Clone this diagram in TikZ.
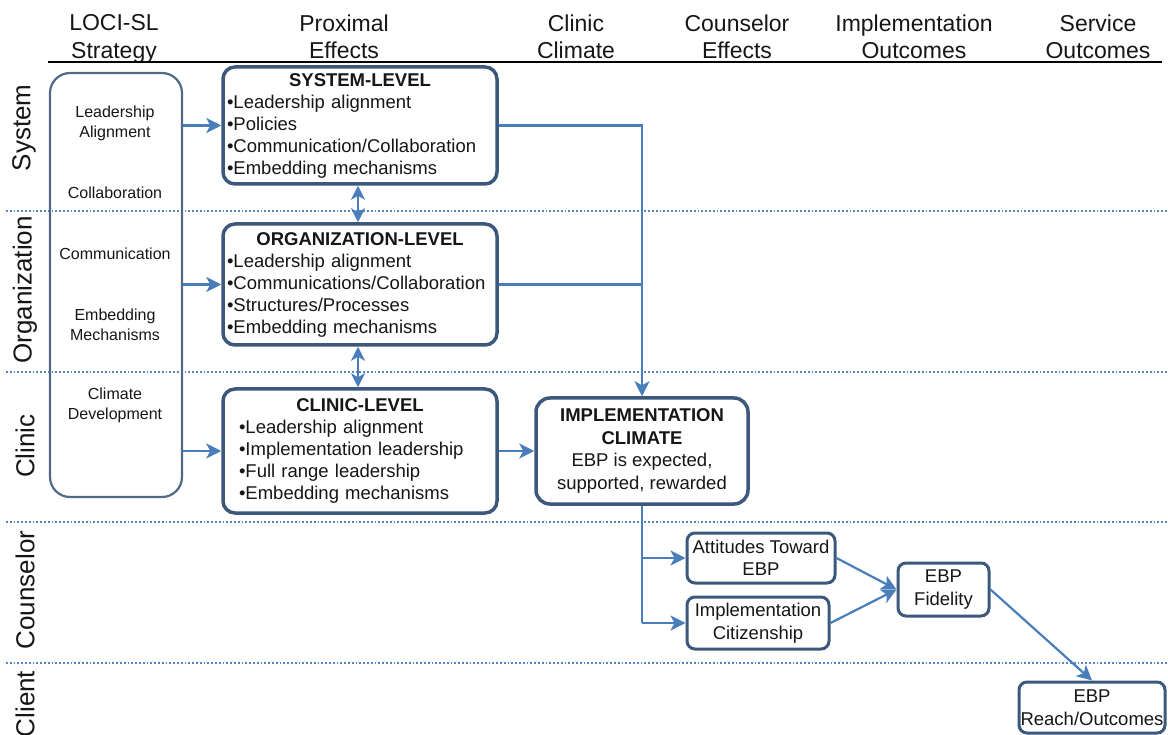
\documentclass[tikz,border=0pt]{standalone}
\usepackage{fontspec}
\setmainfont{Liberation Sans}
\usepackage{tikz}
\usetikzlibrary{arrows.meta}
\usepackage{xcolor}
\definecolor{boxblue}{RGB}{60,88,122}
\definecolor{arrowblue}{RGB}{74,126,187}
\definecolor{dotblue}{RGB}{86,134,192}
\definecolor{inkgray}{RGB}{22,22,22}

\begin{document}
\begin{tikzpicture}[x=1pt, y=-1pt, text=inkgray]
    \tikzstyle{header}=[font=\fontsize{23}{27.5}\selectfont, align=center, inner sep=0pt, anchor=north]
    \tikzstyle{rowlabel}=[font=\fontsize{26}{30}\selectfont, rotate=90, inner sep=0pt]
    \tikzstyle{strattext}=[font=\fontsize{16}{20}\selectfont, align=center, inner sep=0pt]
    \tikzstyle{levelbox}=[draw=boxblue, line width=3.5pt, rounded corners=12pt, fill=white, minimum width=274pt, text width=266pt, inner sep=4pt, font=\fontsize{18.5}{22}\selectfont]
    \tikzstyle{smallbox}=[draw=boxblue, line width=3pt, rounded corners=8pt, fill=white, align=center, inner sep=1pt, font=\fontsize{18.5}{22.5}\selectfont]
    \tikzstyle{flow}=[draw=arrowblue, line width=2.2pt, -{Stealth[length=15pt, width=15pt, inset=4pt]}]
    \tikzstyle{twoway}=[draw=arrowblue, line width=2.2pt, {Stealth[length=14pt, width=14pt, inset=4pt]}-{Stealth[length=14pt, width=14pt, inset=4pt]}]
    \tikzstyle{flowline}=[draw=arrowblue, line width=2.2pt]
    \tikzstyle{dotline}=[draw=dotblue, line width=1.8pt, dash pattern=on 1.8pt off 2pt]

    \useasboundingbox (0,0) rectangle (1168,735);

    \node[header] (hstrat) at (114,14.5) {LOCI-SL\\Strategy};
    \node[header] (hprox) at (344,14.5) {Proximal\\Effects};
    \node[header] (hclim) at (576,14.5) {Clinic\\Climate};
    \node[header] (hcoun) at (737,14.5) {Counselor\\Effects};
    \node[header] (himpl) at (914,14.5) {Implementation\\Outcomes};
    \node[header] (hserv) at (1098,14.5) {Service\\Outcomes};
    \draw[black, line width=1.4pt] (48,62) -- (1162,62);

    \foreach \y in {211,372,522,663}
        \draw[dotline] (6,\y) -- (1168,\y);

    \node[rowlabel] (rsys) at (24,128) {System};
    \node[rowlabel] (rorg) at (25,290) {Organization};
    \node[rowlabel] (rcli) at (25,446) {Clinic};
    \node[rowlabel] (rcou) at (25,590) {Counselor};
    \node[rowlabel] (rclt) at (25,704) {Client};

    \node[draw=boxblue!90, line width=2.2pt, rounded corners=20pt, minimum width=132pt, minimum height=424pt] (strat) at (116,285) {};
    \node[strattext] (salign) at (115,123.5) {Leadership\\Alignment};
    \node[strattext] (scollab) at (115,193) {Collaboration};
    \node[strattext] (scomm) at (115,254) {Communication};
    \node[strattext] (sembed) at (115,324.5) {Embedding\\Mechanisms};
    \node[strattext] (sclim) at (115,405) {Climate\\Development};

    \node[levelbox, minimum height=117pt] (sys) at (360,125.5) {\centering\textbf{SYSTEM-LEVEL}\par\raggedright
        •Leadership alignment\\•Policies\\•Communication/Collaboration\\•Embedding mechanisms};
    \node[levelbox, minimum height=121pt] (org) at (360,284.5) {\centering\textbf{ORGANIZATION-LEVEL}\par\raggedright
        •Leadership alignment\\•Communications/Collaboration\\•Structures/Processes\\•Embedding mechanisms};
    \node[levelbox, minimum height=124pt] (cli) at (360,451) {\centering\textbf{CLINIC-LEVEL}\par\raggedright
        \hspace*{12pt}•Leadership alignment\\\hspace*{12pt}•Implementation leadership\\\hspace*{12pt}•Full range leadership\\\hspace*{12pt}•Embedding mechanisms};

    \node[smallbox, minimum width=212pt, minimum height=106pt, rounded corners=14pt, line width=3.5pt] (impl) at (642,451)
        {\textbf{IMPLEMENTATION}\\\textbf{CLIMATE}\\EBP is expected,\\supported, rewarded};
    \node[smallbox, minimum width=148pt, minimum height=50pt] (att) at (761,558) {Attitudes Toward\\EBP};
    \node[smallbox, minimum width=142pt, minimum height=52pt] (cit) at (758,623) {Implementation\\Citizenship};
    \node[smallbox, minimum width=91pt, minimum height=53pt] (fid) at (943.5,589.5) {EBP\\Fidelity};
    \node[smallbox, minimum width=146pt, minimum height=51pt] (reach) at (1092,707.5) {EBP\\Reach/Outcomes};

    \draw[flow] (strat.east |- sys.west) -- (sys.west);
    \draw[flow] (strat.east |- org.west) -- (org.west);
    \draw[flow] (strat.east |- cli.west) -- (cli.west);
    \draw[twoway] ([xshift=-2pt]sys.south) -- ([xshift=-2pt]org.north);
    \draw[twoway] ([xshift=-2pt]org.south) -- ([xshift=-2pt]cli.north);

    \draw[flow] (sys.east) -| (impl.north);
    \draw[flowline] (org.east) -- (org.east -| impl.north);
    \draw[flow] (cli.east) -- (impl.west);

    \coordinate (split) at (impl.south |- cit.west);
    \draw[flowline] (impl.south) -- (split);
    \draw[flow] (impl.south |- att.west) -- (att.west);
    \draw[flow] (split) -- (cit.west);
    \draw[flow] (att.east) -- (fid.west);
    \draw[flow] (cit.east) -- (fid.west);
    \draw[flow] (fid.east) -- (reach.north);
\end{tikzpicture}
\end{document}
